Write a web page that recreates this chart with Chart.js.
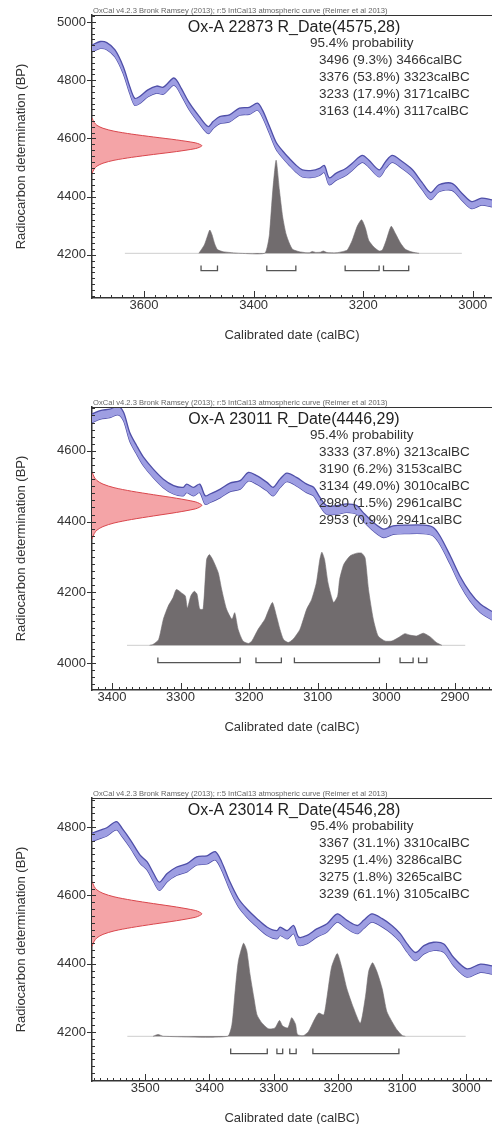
<!DOCTYPE html>
<html>
<head>
<meta charset="utf-8">
<script src="https://cdn.jsdelivr.net/npm/chart.js@4.4.0/dist/chart.umd.min.js"></script>
<style>
  html, body { margin: 0; padding: 0; background: #fff; overflow: hidden; width: 492px; height: 1124px; }
  .panel { position: absolute; left: 0; }
</style>
</head>
<body>
<canvas id="p1" class="panel" width="492" height="360" style="top:0"></canvas>
<canvas id="p2" class="panel" width="492" height="360" style="top:392px"></canvas>
<canvas id="p3" class="panel" width="492" height="360" style="top:783px"></canvas>
<script>
// ---- data ----
const creditText = 'OxCal v4.2.3 Bronk Ramsey (2013); r:5 IntCal13 atmospheric curve (Reimer et al 2013)';

// normal curve of the radiocarbon measurement (BP offset from the mean, relative height)
const redOffsets = [-95, -80, -70, -60, -50, -40, -30, -20, -10, -5, 0, 5, 10, 20, 30, 40, 50, 60, 70, 80, 95];
const redHeights = [0, 0.02, 0.045, 0.10, 0.20, 0.36, 0.56, 0.77, 0.94, 0.98, 1, 0.98, 0.94, 0.77, 0.56, 0.36, 0.20, 0.10, 0.045, 0.02, 0];

// panel 1: Ox-A 22873
const title1 = 'Ox-A 22873 R_Date(4575,28)';
const rDate1 = 4575;
const curve1Years = [3695, 3680, 3668, 3653, 3638, 3626, 3617, 3608, 3593, 3577, 3565, 3547, 3541, 3532, 3517, 3499, 3483, 3474, 3462, 3444, 3426, 3408, 3393, 3384, 3371, 3359, 3347, 3335, 3323, 3311, 3293, 3280, 3271, 3262, 3250, 3232, 3220, 3202, 3190, 3171, 3159, 3147, 3129, 3111, 3093, 3077, 3062, 3038, 3020, 3002, 2984, 2965];
const curve1Bp = [4909, 4921, 4917, 4892, 4835, 4766, 4726, 4732, 4755, 4768, 4764, 4795, 4789, 4760, 4709, 4663, 4629, 4646, 4663, 4669, 4692, 4695, 4709, 4686, 4629, 4575, 4545, 4520, 4497, 4480, 4478, 4485, 4495, 4453, 4468, 4485, 4503, 4530, 4514, 4480, 4509, 4530, 4509, 4482, 4438, 4402, 4429, 4434, 4400, 4371, 4383, 4377];
const grey1Years = [3500, 3490, 3484, 3480, 3476, 3471, 3466, 3456, 3440, 3425, 3380, 3374, 3371, 3365, 3359, 3353, 3347, 3341, 3335, 3329, 3317, 3305, 3298, 3293, 3287, 3278, 3273, 3266, 3250, 3238, 3229, 3220, 3211, 3203, 3196, 3190, 3181, 3171, 3165, 3158, 3149, 3141, 3132, 3123, 3111, 3098];
const grey1Prob = [0, 0.09, 0.19, 0.25, 0.20, 0.10, 0.04, 0.018, 0.007, 0, 0, 0.10, 0.21, 0.68, 1.0, 0.68, 0.39, 0.21, 0.11, 0.043, 0.018, 0.007, 0.006, 0.02, 0.01, 0.012, 0.025, 0.008, 0.005, 0.018, 0.036, 0.14, 0.29, 0.36, 0.27, 0.14, 0.07, 0.025, 0.036, 0.14, 0.29, 0.21, 0.11, 0.043, 0.014, 0];
const span1 = [3635, 3020];
const ranges1 = [[3496, 3466], [3376, 3323], [3233, 3171], [3163, 3117]];
const pct1 = ['9.3', '53.8', '17.9', '14.4'];
const xTicks1 = [3600, 3400, 3200, 3000];
const yTicks1 = [4200, 4400, 4600, 4800, 5000];

// panel 2: Ox-A 23011
const title2 = 'Ox-A 23011 R_Date(4446,29)';
const rDate2 = 4446;
const curve2Years = [3429, 3417, 3403, 3391, 3383, 3374, 3364, 3354, 3340, 3325, 3310, 3296, 3291, 3281, 3272, 3264, 3257, 3242, 3228, 3213, 3201, 3189, 3174, 3165, 3155, 3145, 3131, 3116, 3106, 3097, 3087, 3072, 3058, 3043, 3034, 3019, 3004, 2990, 2970, 2946, 2932, 2922, 2907, 2893, 2878, 2863, 2846];
const curve2Bp = [4692, 4702, 4706, 4714, 4697, 4640, 4603, 4570, 4537, 4508, 4490, 4485, 4494, 4485, 4494, 4461, 4466, 4480, 4497, 4504, 4527, 4518, 4499, 4485, 4508, 4525, 4513, 4494, 4485, 4457, 4433, 4433, 4438, 4433, 4414, 4386, 4367, 4376, 4378, 4378, 4372, 4348, 4292, 4235, 4188, 4155, 4134];
const grey2Years = [3345, 3340, 3332, 3325, 3318, 3311, 3306, 3298, 3293, 3290, 3285, 3280, 3276, 3272, 3267, 3262, 3258, 3253, 3245, 3240, 3233, 3225, 3221, 3216, 3209, 3201, 3196, 3187, 3177, 3172, 3166, 3160, 3155, 3150, 3143, 3136, 3126, 3116, 3109, 3102, 3097, 3094, 3090, 3085, 3077, 3071, 3068, 3062, 3053, 3043, 3036, 3031, 3026, 3019, 3012, 3002, 2992, 2983, 2973, 2966, 2956, 2946, 2936, 2927, 2919];
const grey2Prob = [0, 0.01, 0.06, 0.28, 0.42, 0.51, 0.60, 0.56, 0.53, 0.40, 0.53, 0.58, 0.55, 0.39, 0.39, 0.92, 0.975, 0.92, 0.78, 0.60, 0.39, 0.28, 0.35, 0.17, 0.046, 0.02, 0.046, 0.17, 0.28, 0.37, 0.46, 0.31, 0.17, 0.064, 0.03, 0.064, 0.17, 0.39, 0.49, 0.67, 0.92, 1.0, 0.92, 0.67, 0.46, 0.53, 0.71, 0.87, 0.96, 0.99, 0.99, 0.94, 0.60, 0.28, 0.10, 0.046, 0.046, 0.08, 0.125, 0.11, 0.10, 0.13, 0.09, 0.03, 0];
const span2 = [3378, 2885];
const ranges2 = [[3333, 3213], [3190, 3153], [3134, 3010], [2980, 2961], [2953, 2941]];
const pct2 = ['37.8', '6.2', '49.0', '1.5', '0.9'];
const xTicks2 = [3400, 3300, 3200, 3100, 3000, 2900];
const yTicks2 = [4000, 4200, 4400, 4600];

// panel 3: Ox-A 23014
const title3 = 'Ox-A 23014 R_Date(4546,28)';
const rDate3 = 4546;
const curve3Years = [3583, 3570, 3560, 3545, 3536, 3523, 3508, 3497, 3487, 3478, 3466, 3451, 3435, 3420, 3404, 3391, 3381, 3368, 3355, 3342, 3326, 3310, 3295, 3290, 3279, 3269, 3261, 3248, 3233, 3217, 3201, 3186, 3170, 3160, 3147, 3131, 3116, 3103, 3092, 3079, 3066, 3051, 3035, 3020, 2999, 2978, 2960];
const curve3Bp = [4770, 4779, 4786, 4804, 4784, 4750, 4706, 4686, 4652, 4627, 4652, 4671, 4681, 4701, 4704, 4716, 4686, 4627, 4579, 4549, 4520, 4495, 4485, 4495, 4485, 4500, 4466, 4471, 4490, 4505, 4534, 4515, 4500, 4515, 4534, 4520, 4500, 4476, 4446, 4421, 4441, 4451, 4446, 4407, 4373, 4387, 4382];
const grey3Years = [3488, 3480, 3472, 3372, 3365, 3360, 3355, 3347, 3342, 3337, 3331, 3326, 3318, 3308, 3298, 3291, 3286, 3278, 3272, 3266, 3263, 3254, 3246, 3238, 3230, 3222, 3217, 3210, 3201, 3194, 3186, 3176, 3165, 3157, 3152, 3146, 3139, 3131, 3124, 3116, 3108, 3100, 3095];
const grey3Prob = [0, 0.02, 0, 0, 0.13, 0.49, 0.81, 1.0, 0.92, 0.67, 0.42, 0.23, 0.14, 0.08, 0.09, 0.17, 0.11, 0.09, 0.20, 0.13, 0.02, 0.007, 0.05, 0.16, 0.25, 0.23, 0.42, 0.74, 0.89, 0.74, 0.51, 0.31, 0.14, 0.43, 0.70, 0.79, 0.69, 0.51, 0.27, 0.16, 0.07, 0.01, 0];
const span3 = [3528, 3001];
const ranges3 = [[3367, 3310], [3295, 3286], [3275, 3265], [3239, 3105]];
const pct3 = ['31.1', '1.4', '1.8', '61.1'];
const xTicks3 = [3500, 3400, 3300, 3200, 3100, 3000];
const yTicks3 = [4200, 4400, 4600, 4800];

// ---- styling / layout ----
const FONT = '"Liberation Sans", Arial, Helvetica, sans-serif';
Chart.defaults.font.family = FONT;
Chart.defaults.color = '#333';
const curveHalfWidth = 12;
const bracketLevel = -0.185;
const bracketTick = 0.055;

const frameTicks = {
    id: 'frameTicks',
    afterDatasetsDraw(chart, args, o) {
        const {ctx, chartArea: a, scales: {x, y}} = chart;
        ctx.save();
        ctx.strokeStyle = '#333';
        ctx.lineWidth = 1.2;
        ctx.beginPath();
        ctx.moveTo(a.left, a.top + 0.5);
        ctx.lineTo(a.right, a.top + 0.5);
        ctx.stroke();
        ctx.lineWidth = 1;
        ctx.beginPath();
        const x0 = Math.ceil(Math.min(x.min, x.max) / o.xMinor) * o.xMinor;
        for (let v = x0; v <= Math.max(x.min, x.max); v += o.xMinor) {
            const px = Math.round(x.getPixelForValue(v)) + 0.5;
            const len = o.xTicks.includes(v) ? 7 : 3;
            ctx.moveTo(px, a.bottom);
            ctx.lineTo(px, a.bottom - len);
        }
        const y0 = Math.ceil(y.min / o.yMinor) * o.yMinor;
        for (let v = y0; v <= y.max; v += o.yMinor) {
            const py = Math.round(y.getPixelForValue(v)) + 0.5;
            if (o.yTicks.includes(v)) {
                ctx.moveTo(a.left - 5, py);
                ctx.lineTo(a.left + 4, py);
            } else {
                ctx.moveTo(a.left, py);
                ctx.lineTo(a.left + 3, py);
            }
        }
        ctx.stroke();
        ctx.restore();
    }
};

const oxcalText = {
    id: 'oxcalText',
    afterDraw(chart, args, o) {
        const {ctx, chartArea: a} = chart;
        ctx.save();
        ctx.fillStyle = '#666';
        ctx.font = '7.6px ' + FONT;
        ctx.textBaseline = 'alphabetic';
        ctx.fillText(creditText, a.left + 1, a.top - 2);
        ctx.fillStyle = '#222';
        ctx.font = '16px ' + FONT;
        ctx.textAlign = 'center';
        ctx.textBaseline = 'middle';
        ctx.fillText(o.title, (a.left + a.right) / 2 + 2, a.top + 13);
        ctx.fillStyle = '#333';
        ctx.font = '13.5px ' + FONT;
        ctx.textAlign = 'left';
        ctx.fillText('95.4% probability', a.left + 218, a.top + 28);
        o.ranges.forEach((r, i) => {
            ctx.fillText(`${r[0]} (${o.pct[i]}%) ${r[1]}calBC`, a.left + 227, a.top + 45.5 + 17 * i);
        });
        ctx.restore();
    }
};

function bracketPoints(ranges) {
    const pts = [];
    ranges.forEach(([a, b]) => {
        pts.push({x: a, y: bracketLevel + bracketTick}, {x: a, y: bracketLevel},
                 {x: b, y: bracketLevel}, {x: b, y: bracketLevel + bracketTick}, {x: b, y: null});
    });
    return pts;
}

function makePanel(id, p) {
    const upper = p.years.map((yr, i) => ({x: yr, y: p.bp[i] + curveHalfWidth}));
    const lower = p.years.map((yr, i) => ({x: yr, y: p.bp[i] - curveHalfWidth}));
    const red = redOffsets.map((d, i) => ({x: redHeights[i], y: p.rDate + d}));
    const grey = p.greyYears.map((yr, i) => ({x: yr, y: p.greyProb[i]}));

    return new Chart(document.getElementById(id), {
        type: 'line',
        data: {
            datasets: [
                {data: upper, borderColor: '#4f4fa8', borderWidth: 1.3, backgroundColor: '#9e9ee2', fill: '+1', pointRadius: 0, tension: 0.3},
                {data: lower, borderColor: '#4f4fa8', borderWidth: 1.3, fill: false, pointRadius: 0, tension: 0.3},
                {data: red, indexAxis: 'y', xAxisID: 'xp', yAxisID: 'y', borderColor: '#d9464c', borderWidth: 1,
                 backgroundColor: '#f4a4a7', fill: 'origin', pointRadius: 0, tension: 0.3},
                {data: grey, xAxisID: 'x', yAxisID: 'yp', borderColor: '#716c6e', borderWidth: 0.6,
                 backgroundColor: '#716c6e', fill: 'origin', pointRadius: 0, tension: 0.2},
                {data: p.span.map(v => ({x: v, y: 0})), xAxisID: 'x', yAxisID: 'yp', borderColor: '#cfcfcf', borderWidth: 1, pointRadius: 0},
                {data: bracketPoints(p.ranges), xAxisID: 'x', yAxisID: 'yp', borderColor: '#555', borderWidth: 1.3,
                 pointRadius: 0, spanGaps: false}
            ]
        },
        options: {
            responsive: false,
            animation: false,
            layout: {padding: {top: 15, left: 0, right: 0, bottom: 0}},
            plugins: {
                legend: {display: false},
                tooltip: {enabled: false},
                frameTicks: {xTicks: p.xTicks, yTicks: p.yTicks, xMinor: p.xMinor, yMinor: 20},
                oxcalText: {title: p.title, ranges: p.ranges, pct: p.pct}
            },
            scales: {
                x: {
                    type: 'linear', position: 'bottom', reverse: true, min: p.xMin, max: p.xMax,
                    afterBuildTicks: s => { s.ticks = p.xTicks.map(v => ({value: v})); },
                    afterFit: s => { s.height = 62; },
                    ticks: {callback: v => String(v), padding: 0, font: {size: 13}, maxRotation: 0, autoSkip: false},
                    grid: {display: false, drawTicks: false},
                    border: {display: true, color: '#333', width: 1.5},
                    title: {display: true, text: 'Calibrated date (calBC)', font: {size: 13}, padding: {top: 0, bottom: 17}}
                },
                y: {
                    type: 'linear', position: 'left', min: p.yMin, max: p.yMax,
                    afterBuildTicks: s => { s.ticks = p.yTicks.map(v => ({value: v})); },
                    afterFit: s => { s.width = 92; },
                    ticks: {callback: v => String(v), padding: 6, font: {size: 13}, autoSkip: false},
                    grid: {display: false, drawTicks: false},
                    border: {display: true, color: '#333', width: 1.5},
                    title: {display: true, text: 'Radiocarbon determination (BP)', font: {size: 13}, padding: {top: 14, bottom: 0}}
                },
                yp: {type: 'linear', axis: 'y', display: false, min: -0.48, max: 2.56},
                xp: {type: 'linear', axis: 'x', display: false, min: 0, max: 3.64}
            }
        },
        plugins: [frameTicks, oxcalText]
    });
}

makePanel('p1', {
    title: title1, rDate: rDate1, years: curve1Years, bp: curve1Bp, greyYears: grey1Years, greyProb: grey1Prob,
    span: span1, ranges: ranges1, pct: pct1, xTicks: xTicks1, yTicks: yTicks1, xMinor: 20,
    xMin: 2965, xMax: 3695, yMin: 4052, yMax: 5024
});
makePanel('p2', {
    title: title2, rDate: rDate2, years: curve2Years, bp: curve2Bp, greyYears: grey2Years, greyProb: grey2Prob,
    span: span2, ranges: ranges2, pct: pct2, xTicks: xTicks2, yTicks: yTicks2, xMinor: 10,
    xMin: 2846, xMax: 3429, yMin: 3924, yMax: 4724
});
makePanel('p3', {
    title: title3, rDate: rDate3, years: curve3Years, bp: curve3Bp, greyYears: grey3Years, greyProb: grey3Prob,
    span: span3, ranges: ranges3, pct: pct3, xTicks: xTicks3, yTicks: yTicks3, xMinor: 10,
    xMin: 2960, xMax: 3583, yMin: 4057, yMax: 4885
});
</script>
</body>
</html>
